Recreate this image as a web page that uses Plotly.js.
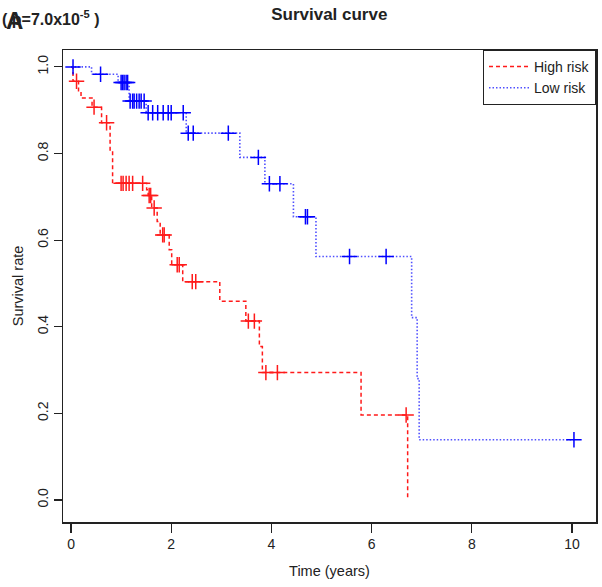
<!DOCTYPE html>
<html>
<head>
<meta charset="utf-8">
<script src="https://cdn.plot.ly/plotly-3.0.1.min.js"></script>
<style>html,body{margin:0;padding:0;background:#fff;}#chart{width:602px;height:587px;}</style>
</head>
<body>
<div id="chart"></div>
<script>
// High risk group: event times (years) and survival after each event
const highEventTimes = [0.04, 0.15, 0.20, 0.42, 0.61, 0.78, 0.83, 1.51, 1.54, 1.61, 1.72, 1.78, 1.96, 2.01, 2.23, 2.97, 3.49, 3.76, 3.82, 5.79, 6.72];
const highSurv       = [0.967, 0.945, 0.928, 0.907, 0.871, 0.808, 0.731, 0.716, 0.703, 0.674, 0.643, 0.612, 0.578, 0.543, 0.504, 0.459, 0.413, 0.354, 0.294, 0.196, 0.0];
const highCensor     = [0.11, 0.46, 0.71, 1.00, 1.04, 1.10, 1.16, 1.23, 1.43, 1.56, 1.59, 1.66, 1.83, 1.86, 2.12, 2.16, 2.42, 2.49, 3.54, 3.66, 3.89, 4.12, 6.69];

// Low risk group
const lowEventTimes = [0.41, 0.94, 1.16, 1.50, 2.30, 3.37, 3.87, 4.44, 4.89, 6.80, 6.91, 6.95];
const lowSurv       = [0.983, 0.964, 0.921, 0.894, 0.847, 0.791, 0.730, 0.654, 0.562, 0.421, 0.280, 0.139];
const lowCensor     = [0.04, 0.59, 1.00, 1.03, 1.06, 1.10, 1.13, 1.18, 1.23, 1.26, 1.31, 1.36, 1.40, 1.46, 1.54, 1.63, 1.73, 1.84, 1.94, 2.00, 2.24, 2.34, 2.44, 3.14, 3.74, 3.96, 4.17, 4.68, 4.72, 5.56, 6.29, 10.04];

const groupNames = ["High risk", "Low risk"];
const xTicks = [0, 2, 4, 6, 8, 10];
const yTicks = [0, 0.2, 0.4, 0.6, 0.8, 1.0];
const yTickText = ["0.0", "0.2", "0.4", "0.6", "0.8", "1.0"];

function survAt(times, surv, t) {
  let s = 1;
  for (let i = 0; i < times.length; i++) { if (times[i] <= t) s = surv[i]; }
  return s;
}
function stepCurve(times, surv, censor) {
  const x = [0].concat(times);
  const y = [1].concat(surv);
  const lastC = censor[censor.length - 1];
  if (lastC > times[times.length - 1]) { x.push(lastC); y.push(surv[surv.length - 1]); }
  return {x, y};
}

const redCol = "#FF1A1A";
const hc = stepCurve(highEventTimes, highSurv, highCensor);
const lc = stepCurve(lowEventTimes, lowSurv, lowCensor);

const traces = [
  {x: hc.x, y: hc.y, type: "scatter", mode: "lines", line: {shape: "hv", color: redCol, dash: "4px,3px", width: 1.5}, name: groupNames[0]},
  {x: lc.x, y: lc.y, type: "scatter", mode: "lines", line: {shape: "hv", color: "#5050FF", dash: "1.5px,2px", width: 1.6}, name: groupNames[1]},
  {x: highCensor, y: highCensor.map(t => survAt(highEventTimes, highSurv, t)), type: "scatter", mode: "markers",
   marker: {symbol: "cross-thin", size: 11, line: {color: redCol, width: 1.5}}, showlegend: false},
  {x: lowCensor, y: lowCensor.map(t => survAt(lowEventTimes, lowSurv, t)), type: "scatter", mode: "markers",
   marker: {symbol: "cross-thin", size: 11, line: {color: "#0000FF", width: 1.5}}, showlegend: false}
];

const layout = {
  width: 602, height: 587,
  margin: {l: 63, r: 6, t: 50, b: 65},
  paper_bgcolor: "#fff", plot_bgcolor: "#fff",
  font: {family: "Liberation Sans, Arial, sans-serif", size: 13, color: "#222"},
  title: {text: "<b>Survival curve</b>", font: {size: 17, color: "#222"}, x: 0.547, xanchor: "center", y: 0.976, yanchor: "middle"},
  showlegend: true,
  legend: {x: 1, xanchor: "right", y: 1, yanchor: "top", bordercolor: "#222", borderwidth: 1, bgcolor: "#fff",
           font: {size: 14, color: "#222"}, itemwidth: 40, tracegroupgap: 2},
  xaxis: {range: [-0.16, 10.48], tickvals: xTicks, ticks: "outside", ticklen: 9, tickwidth: 1.2, tickcolor: "#222",
          showline: true, linecolor: "#222", linewidth: 1.5, mirror: true, showgrid: false, zeroline: false,
          tickfont: {size: 14, color: "#222"},
          title: {text: "Time (years)", font: {size: 14.5, color: "#222"}, standoff: 14}},
  yaxis: {range: [-0.051, 1.039], tickvals: yTicks, ticktext: yTickText, tickangle: -90, ticks: "outside", ticklen: 8, tickwidth: 1.2, tickcolor: "#222",
          showline: true, linecolor: "#222", linewidth: 1.5, mirror: true, showgrid: false, zeroline: false,
          tickfont: {size: 14, color: "#222"},
          title: {text: "Survival rate", font: {size: 14.5, color: "#222"}, standoff: 8}},
  annotations: [
    {xref: "paper", yref: "paper", x: -0.119, y: 1.068, xanchor: "left", yanchor: "middle", showarrow: false,
     text: "<b>( p=7.0x10<sup>-5</sup> )</b>", font: {size: 16, color: "#222"}},
    {xref: "paper", yref: "paper", x: -0.111, y: 1.063, xanchor: "left", yanchor: "middle", showarrow: false,
     text: "<b>A</b>", font: {size: 24, color: "#222"}}
  ]
};

Plotly.newPlot("chart", traces, layout, {displayModeBar: false, staticPlot: true});
</script>
</body>
</html>
